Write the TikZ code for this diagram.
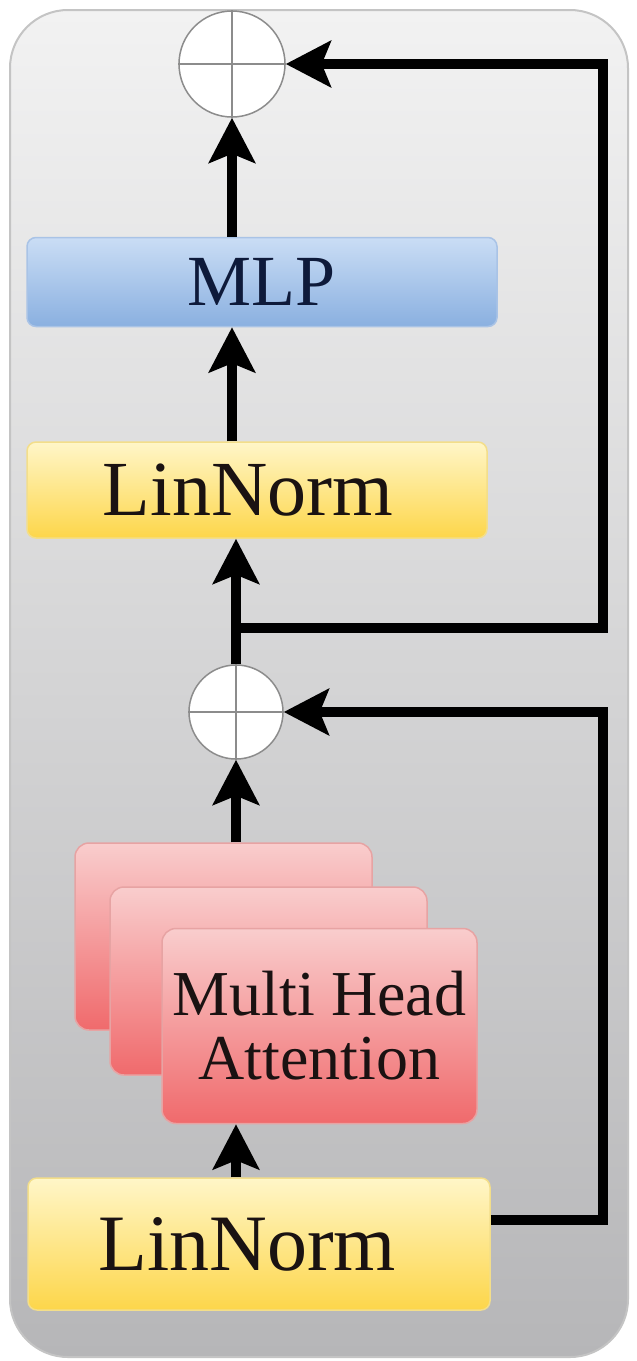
\documentclass[tikz,border=0pt]{standalone}
\usepackage{fontspec}
\setmainfont{Liberation Serif}
\usetikzlibrary{arrows.meta,shapes.geometric}
\definecolor{bgtop}{HTML}{F2F2F2}
\definecolor{bgbot}{HTML}{B6B6B8}
\definecolor{bgline}{HTML}{C4C4C4}
\definecolor{mlptop}{HTML}{CADDF5}
\definecolor{mlpbot}{HTML}{8AB0E0}
\definecolor{mlpline}{HTML}{A9C3E6}
\definecolor{lntop}{HTML}{FFF6C8}
\definecolor{lnbot}{HTML}{FDD64A}
\definecolor{lnline}{HTML}{F3DE8A}
\definecolor{mhtop}{HTML}{F9CDCD}
\definecolor{mhbot}{HTML}{F06A6C}
\definecolor{mhline}{HTML}{E7A3A3}
\definecolor{txt}{HTML}{1A1212}
\definecolor{navy}{HTML}{0E1A3A}
\definecolor{circline}{HTML}{8C8C8C}
\tikzset{
  blockbox/.style={draw, line width=1.5pt, rounded corners=9pt, inner sep=0pt, text=txt},
  mlpbox/.style={blockbox, draw=mlpline, top color=mlptop, bottom color=mlpbot, text=navy},
  lnbox/.style={blockbox, draw=lnline, top color=lntop, bottom color=lnbot},
  mhbox/.style={blockbox, draw=mhline, top color=mhtop, bottom color=mhbot, rounded corners=14pt},
  addnode/.style={circle, draw=circline, line width=1.5pt, fill=white, inner sep=0pt},
  crossline/.style={draw=circline, line width=1.5pt},
  arr/.style={line width=10pt, -{Stealth[length=45pt,width=46pt,inset=9pt]}},
  bigfont/.style={font=\fontsize{78}{80}\selectfont},
  mlpfont/.style={font=\fontsize{72}{80}\selectfont},
  midfont/.style={font=\fontsize{64}{70}\selectfont, align=center}
}
\begin{document}
\begin{tikzpicture}[x=1pt,y=-1pt]
\useasboundingbox (0,0) rectangle (637,1361);
\fill[white] (0,0) rectangle (637,1361);
\path[draw=bgline, line width=2pt, rounded corners=58pt, top color=bgtop, bottom color=bgbot]
  (10,10) rectangle (628,1357);

% blocks
\node[mlpbox, mlpfont, minimum width=470pt, minimum height=89pt] (mlp) at (262,282) {MLP};
\node[lnbox, bigfont, minimum width=460pt, minimum height=96pt] (ln1) at (257,490) {\hspace*{-18pt}LinNorm};
\node[mhbox, minimum width=297pt, minimum height=187pt] (mh3) at (223.5,936.5) {};
\node[mhbox, minimum width=317pt, minimum height=188pt] (mh2) at (268.5,981) {};
\node[mhbox, midfont, minimum width=315pt, minimum height=195pt] (mh1) at (319.5,1026) {Multi Head\\[-6pt]Attention};
\node[lnbox, font=\fontsize{80}{80}\selectfont, minimum width=462pt, minimum height=132pt] (ln2) at (259,1244) {\hspace*{-24pt}LinNorm};

% adders
\node[addnode, minimum size=106pt] (c1) at (232,64) {};
\draw[crossline] (c1.north) -- (c1.south) (c1.west) -- (c1.east);
\node[addnode, minimum size=94pt] (c2) at (236,712) {};
\draw[crossline] (c2.north) -- (c2.south) (c2.west) -- (c2.east);

% coordinates
\coordinate (br) at (236,628);
\coordinate (s2) at (603,628);
\coordinate (s1) at (603,1220);

% main path
\draw[arr] (ln2.north -| c2.center) -- (mh1.south -| c2.center);
\draw[arr] (c2.north) -- (ln1.south -| c2.center);
\draw[arr] (mh3.north -| c2.center) -- (c2.south);
\draw[arr] (ln1.north -| c1.center) -- (mlp.south -| c1.center);
\draw[arr] (mlp.north -| c1.center) -- (c1.south);

% skips
\draw[arr, line join=miter] (br) -- (s2) -- (s2 |- c1) -- (c1.east);
\draw[arr, line join=miter] (ln2.east |- s1) -- (s1) -- (s1 |- c2) -- (c2.east);
\end{tikzpicture}
\end{document}
